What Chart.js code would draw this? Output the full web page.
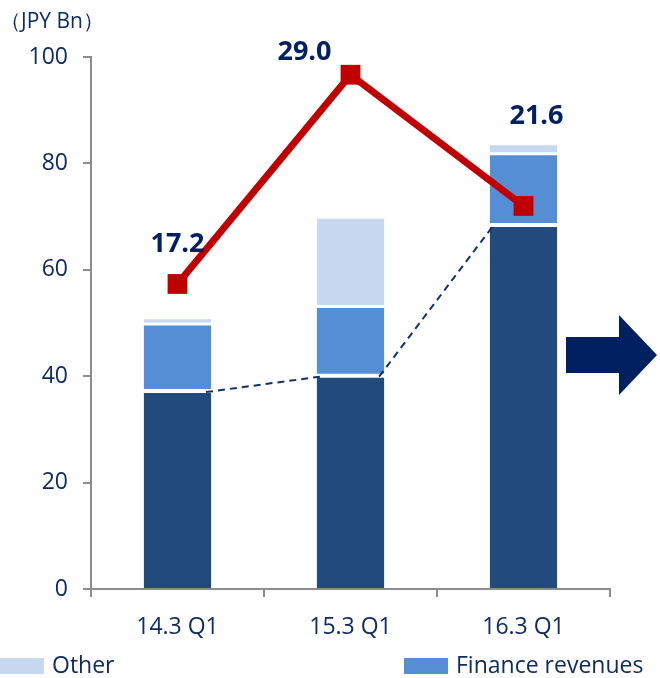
<!DOCTYPE html>
<html>
<head>
<meta charset="utf-8">
<script src="https://cdn.jsdelivr.net/npm/chart.js@4.4.0/dist/chart.umd.min.js"></script>
<style>
  html, body { margin: 0; padding: 0; background: #ffffff; }
  #wrap { width: 660px; height: 678px; }
</style>
</head>
<body>
<div id="wrap"><canvas id="chart" width="660" height="678"></canvas></div>
<script>
//Categories on the x axis
const categories = ["14.3 Q1", "15.3 Q1", "16.3 Q1"];
//Stacked bar parts (JPY Bn)
const baseValues = [37.2, 40.1, 68.4];
const financeValues = [12.7, 13.1, 13.5];
const otherValues = [1.0, 16.6, 1.7];
//Red line values (own hidden scale)
const lineValues = [17.2, 29.0, 21.6];
//Tick labels on the left axis
const yTicks = [0, 20, 40, 60, 80, 100];

const navy = "#0F2B62";
const axisGray = "#8c8c8c";
const fontFamily = "'Open Sans', 'DejaVu Sans', sans-serif";

//Dashed line between dark bar tops, value labels, arrow, unit and legend
const decorPlugin = {
  id: "decor",
  afterDatasetsDraw(chart) {
    const ctx = chart.ctx;
    const bars = chart.getDatasetMeta(0).data;
    ctx.save();
    ctx.strokeStyle = "#12306A";
    ctx.lineWidth = 2;
    ctx.setLineDash([7, 5]);
    for (let i = 0; i < bars.length - 1; i++) {
      const a = bars[i], b = bars[i + 1];
      ctx.beginPath();
      ctx.moveTo(a.x + a.width / 2 - 6, a.y + 1);
      ctx.lineTo(b.x - b.width / 2 + 4, b.y + 1);
      ctx.stroke();
    }
    ctx.restore();
  },
  afterDraw(chart) {
    const ctx = chart.ctx;
    const area = chart.chartArea;
    ctx.save();

    //labels of the red line
    const offsets = [[0, -40], [-46, -22], [13, -90]];
    const pts = chart.getDatasetMeta(3).data;
    ctx.fillStyle = "#002060";
    ctx.font = "bold 27px " + fontFamily;
    ctx.textAlign = "center";
    ctx.textBaseline = "middle";
    pts.forEach((p, i) => {
      ctx.fillText(lineValues[i].toFixed(1), p.x + offsets[i][0], p.y + offsets[i][1]);
    });

    //unit text
    ctx.fillStyle = navy;
    ctx.font = "21px " + fontFamily;
    ctx.textAlign = "left";
    ctx.fillText("（JPY Bn）", 0, 22);

    //arrow to the right
    const ax = area.right - 44, cy = area.top + 298;
    ctx.fillStyle = "#002060";
    ctx.beginPath();
    ctx.moveTo(ax, cy - 18);
    ctx.lineTo(ax + 53, cy - 18);
    ctx.lineTo(ax + 53, cy - 40);
    ctx.lineTo(ax + 91, cy);
    ctx.lineTo(ax + 53, cy + 40);
    ctx.lineTo(ax + 53, cy + 18);
    ctx.lineTo(ax, cy + 18);
    ctx.closePath();
    ctx.fill();

    //legend (only the visible row)
    const items = [
      { ds: chart.data.datasets[2], x: 0 },
      { ds: chart.data.datasets[1], x: 404 }
    ];
    const ly = 666;
    ctx.font = "23px " + fontFamily;
    items.forEach(it => {
      ctx.fillStyle = it.ds.backgroundColor;
      ctx.fillRect(it.x, ly - 8, 44, 16);
      ctx.fillStyle = navy;
      ctx.fillText(it.ds.label, it.x + 52, ly);
    });
    ctx.restore();
  }
};

new Chart(document.getElementById("chart"), {
  type: "bar",
  plugins: [decorPlugin],
  data: {
    labels: categories,
    datasets: [
      {
        label: "Base",
        data: baseValues,
        backgroundColor: "#234A7D",
        borderColor: "#ffffff",
        borderWidth: { top: 2, left: 1, right: 1, bottom: 0 },
        borderSkipped: false,
        order: 2
      },
      {
        label: "Finance revenues",
        data: financeValues,
        backgroundColor: "#558ED5",
        borderColor: "#ffffff",
        borderWidth: { top: 2, left: 1, right: 1, bottom: 2 },
        borderSkipped: false,
        order: 2
      },
      {
        label: "Other",
        data: otherValues,
        backgroundColor: "#C6D9F1",
        borderColor: "#ffffff",
        borderWidth: { top: 1, left: 1, right: 1, bottom: 1 },
        borderSkipped: false,
        order: 2
      },
      {
        type: "line",
        label: "Line",
        data: lineValues,
        yAxisID: "y1",
        borderColor: "#C00000",
        borderWidth: 7,
        pointStyle: "rect",
        pointRadius: 14,
        pointBackgroundColor: "#C00000",
        pointBorderWidth: 0,
        tension: 0,
        order: 0
      }
    ]
  },
  options: {
    responsive: false,
    animation: false,
    layout: { padding: { left: 10, top: 57, right: 50, bottom: 40 } },
    plugins: {
      legend: { display: false },
      tooltip: { enabled: false }
    },
    datasets: {
      bar: { categoryPercentage: 1, barPercentage: 0.4 }
    },
    scales: {
      x: {
        stacked: true,
        offset: true,
        grid: { drawOnChartArea: false, tickLength: 8, color: axisGray, lineWidth: 2, offset: true },
        border: { color: axisGray, width: 2 },
        ticks: { color: navy, font: { family: fontFamily, size: 23 }, padding: 17 },
        afterFit: s => { s.height = 49; }
      },
      y: {
        stacked: true,
        min: 0,
        max: 100,
        grid: { drawOnChartArea: false, tickLength: 8, color: axisGray, lineWidth: 2 },
        border: { color: axisGray, width: 2 },
        ticks: { color: navy, font: { family: fontFamily, size: 23 }, padding: 15 },
        afterBuildTicks: s => { s.ticks = yTicks.map(v => ({ value: v })); },
        afterFit: s => { s.width = 81; }
      },
      y1: {
        display: false,
        min: 0,
        max: 30
      }
    }
  }
});
</script>
</body>
</html>
